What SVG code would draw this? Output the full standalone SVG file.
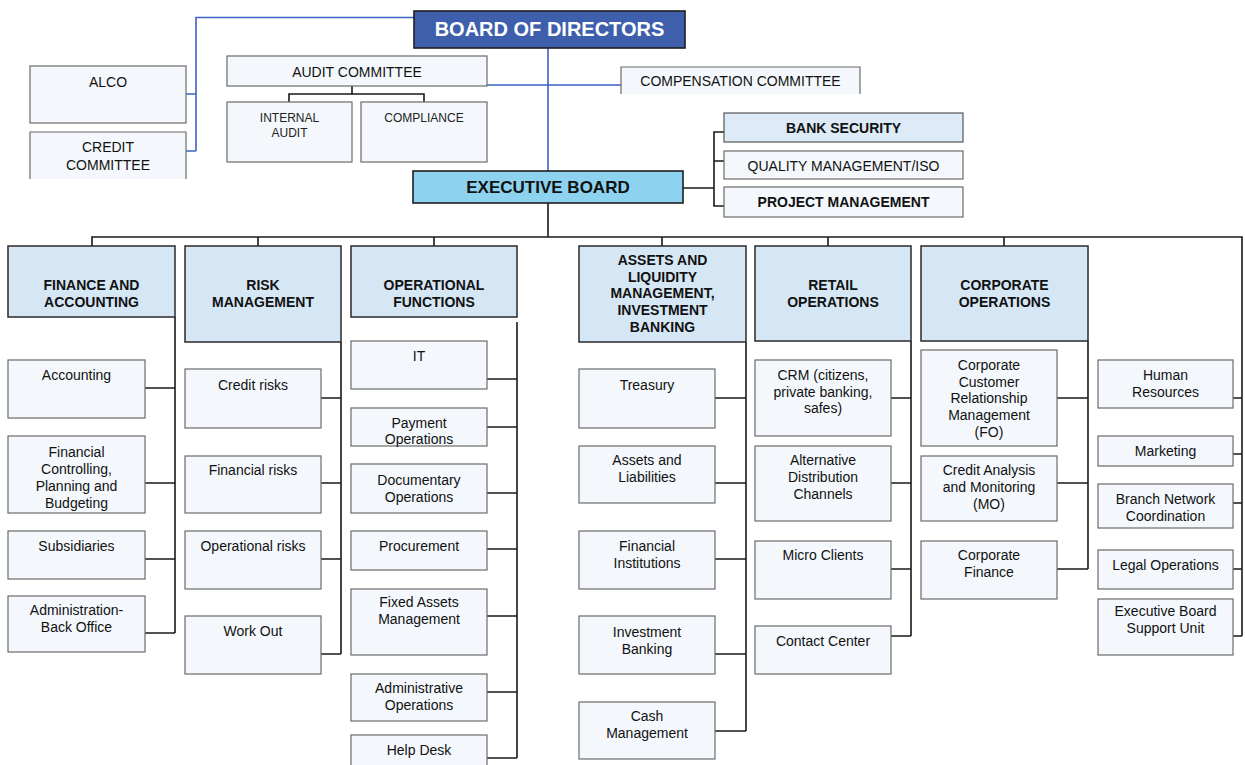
<svg xmlns="http://www.w3.org/2000/svg" width="1245" height="765" viewBox="0 0 1245 765">
<style>
.hdr{fill:#d5e7f5;stroke:#2a2a2a;stroke-width:1.5}
.box{fill:#f4f8fc;stroke:#6b6b6b;stroke-width:1.2}
.top{fill:#f4f8fc;stroke:#6b6b6b;stroke-width:1.2}
.fillonly{fill:#f4f8fc;stroke:none}
.edge{fill:none;stroke:#6b6b6b;stroke-width:1.2}
.bsec{fill:#dcebf7;stroke:#555;stroke-width:1.2}
.t{font-family:"Liberation Sans",Arial,sans-serif;font-size:14px;fill:#111;text-anchor:middle}
.ts{font-family:"Liberation Sans",Arial,sans-serif;font-size:12px;fill:#222;text-anchor:middle}
.tb{font-family:"Liberation Sans",Arial,sans-serif;font-size:14px;font-weight:bold;fill:#111;text-anchor:middle}
.ln{fill:none;stroke:#1a1a1a;stroke-width:1.6}
.bl{fill:none;stroke:#3a63c4;stroke-width:1.6}
</style>
<rect width="1245" height="765" fill="#ffffff"/>

<g id="connectors">
  <path class="bl" d="M414,17.5H196V151M186,94H196M186,151H196"/>
  <path class="bl" d="M548,48V171M487,85H621"/>
  <path class="ln" d="M352,86V94M289,102V94H424V102"/>
  <path class="ln" d="M683,188H714M724,132H714V206H724M714,161H724"/>
  <path class="ln" d="M548,203V237M92,246V237H1242V636M258,237V246M434,237V246M662,237V246M828,237V246M1004,237V246"/>
  <path class="ln" d="M175,317V633M145,388H175M145,483H175M145,559H175M145,633H175"/>
  <path class="ln" d="M341,342V654M321,398H341M321,483H341M321,559H341M321,654H341"/>
  <path class="ln" d="M517,322V758M487,379H517M487,427H517M487,493H517M487,549H517M487,616H517M487,692H517M487,758H517"/>
  <path class="ln" d="M746,342V731M715,398H746M715,483H746M715,559H746M715,654H746M715,731H746"/>
  <path class="ln" d="M911,341V636M891,398H911M891,483H911M891,569H911M891,636H911"/>
  <path class="ln" d="M1088,341V569M1057,398H1088M1057,483H1088M1057,569H1088"/>
  <path class="ln" d="M1233,398H1242M1233,454H1242M1233,503H1242M1233,569H1242M1233,636H1242"/>
</g>

<g id="board">
  <rect x="414" y="11" width="271" height="37" fill="#3e5fab" stroke="#1f1f1f" stroke-width="1.6"/>
  <text x="549.5" y="36" style="font-family:'Liberation Sans',Arial,sans-serif;font-size:20px;font-weight:bold;fill:#ffffff;text-anchor:middle">BOARD OF DIRECTORS</text>
</g>
<g id="alco">
  <rect class="top" x="30" y="66" width="156" height="57"/>
  <text class="t" x="108" y="87">ALCO</text>
</g>
<g id="credit-committee">
  <rect class="fillonly" x="30" y="132" width="156" height="47"/>
  <path class="edge" d="M30,179V132H186V179"/>
  <text class="t" x="108" y="152">CREDIT</text>
  <text class="t" x="108" y="170">COMMITTEE</text>
</g>
<g id="audit-committee">
  <rect class="top" x="227" y="56" width="260" height="30"/>
  <text class="t" x="357" y="77">AUDIT COMMITTEE</text>
</g>
<g id="internal-audit">
  <rect class="top" x="227" y="102" width="125" height="60"/>
  <text class="ts" x="289.5" y="122">INTERNAL</text>
  <text class="ts" x="289.5" y="137">AUDIT</text>
</g>
<g id="compliance">
  <rect class="top" x="361" y="102" width="126" height="60"/>
  <text class="ts" x="424" y="122">COMPLIANCE</text>
</g>
<g id="compensation">
  <rect class="fillonly" x="621" y="67" width="239" height="27"/>
  <path class="edge" d="M621,94V67H860V94"/>
  <text class="t" x="740.5" y="86">COMPENSATION COMMITTEE</text>
</g>
<g id="executive-board">
  <rect x="413" y="171" width="270" height="32" fill="#8dd3ef" stroke="#1f1f1f" stroke-width="1.6"/>
  <text x="548" y="193" style="font-family:'Liberation Sans',Arial,sans-serif;font-size:17px;font-weight:bold;fill:#111;text-anchor:middle">EXECUTIVE BOARD</text>
</g>
<g id="bank-security">
  <rect class="bsec" x="724" y="113" width="239" height="29"/>
  <text class="tb" x="843.5" y="133">BANK SECURITY</text>
</g>
<g id="quality">
  <rect class="top" x="724" y="151" width="239" height="28"/>
  <text class="t" x="843.5" y="170.5">QUALITY MANAGEMENT/ISO</text>
</g>
<g id="project">
  <rect class="top" x="724" y="187" width="239" height="30"/>
  <text class="tb" x="843.5" y="207">PROJECT MANAGEMENT</text>
</g>

<g id="finance">
  <rect class="hdr" x="8" y="246" width="167" height="71"/>
  <text class="tb" x="91.5" y="290">FINANCE AND</text>
  <text class="tb" x="91.5" y="306.5">ACCOUNTING</text>
</g>
<g id="risk">
  <rect class="hdr" x="185" y="246" width="156" height="96"/>
  <text class="tb" x="263" y="290">RISK</text>
  <text class="tb" x="263" y="306.5">MANAGEMENT</text>
</g>
<g id="operational">
  <rect class="hdr" x="351" y="246" width="166" height="71"/>
  <text class="tb" x="434" y="290">OPERATIONAL</text>
  <text class="tb" x="434" y="306.5">FUNCTIONS</text>
</g>
<g id="assets">
  <rect class="hdr" x="579" y="246" width="167" height="96"/>
  <text class="tb" x="662.5" y="265">ASSETS AND</text>
  <text class="tb" x="662.5" y="281.7">LIQUIDITY</text>
  <text class="tb" x="662.5" y="298.4">MANAGEMENT,</text>
  <text class="tb" x="662.5" y="315">INVESTMENT</text>
  <text class="tb" x="662.5" y="331.7">BANKING</text>
</g>
<g id="retail">
  <rect class="hdr" x="755" y="246" width="156" height="95"/>
  <text class="tb" x="833" y="290">RETAIL</text>
  <text class="tb" x="833" y="306.5">OPERATIONS</text>
</g>
<g id="corporate">
  <rect class="hdr" x="921" y="246" width="167" height="95"/>
  <text class="tb" x="1004.5" y="290">CORPORATE</text>
  <text class="tb" x="1004.5" y="306.5">OPERATIONS</text>
</g>

<g id="accounting"><rect class="box" x="8" y="360" width="137" height="58"/><text class="t" x="76.5" y="380">Accounting</text></g>
<g id="fin-controlling"><rect class="box" x="8" y="436" width="137" height="77"/>
  <text class="t" x="76.5" y="456.5">Financial</text><text class="t" x="76.5" y="473.5">Controlling,</text><text class="t" x="76.5" y="490.5">Planning and</text><text class="t" x="76.5" y="507.5">Budgeting</text></g>
<g id="subsidiaries"><rect class="box" x="8" y="531" width="137" height="48"/><text class="t" x="76.5" y="551">Subsidiaries</text></g>
<g id="admin-back"><rect class="box" x="8" y="596" width="137" height="56"/><text class="t" x="76.5" y="614.5">Administration-</text><text class="t" x="76.5" y="631.5">Back Office</text></g>

<g id="credit-risks"><rect class="box" x="185" y="369" width="136" height="59"/><text class="t" x="253" y="390">Credit risks</text></g>
<g id="financial-risks"><rect class="box" x="185" y="456" width="136" height="57"/><text class="t" x="253" y="474.5">Financial risks</text></g>
<g id="operational-risks"><rect class="box" x="185" y="531" width="136" height="58"/><text class="t" x="253" y="551">Operational risks</text></g>
<g id="work-out"><rect class="box" x="185" y="616" width="136" height="58"/><text class="t" x="253" y="636">Work Out</text></g>

<g id="it"><rect class="box" x="351" y="341" width="136" height="48"/><text class="t" x="419" y="361">IT</text></g>
<g id="payment"><rect class="box" x="351" y="408" width="136" height="38"/><text class="t" x="419" y="427.5">Payment</text><text class="t" x="419" y="444">Operations</text></g>
<g id="documentary"><rect class="box" x="351" y="464" width="136" height="49"/><text class="t" x="419" y="484.5">Documentary</text><text class="t" x="419" y="501.5">Operations</text></g>
<g id="procurement"><rect class="box" x="351" y="531" width="136" height="39"/><text class="t" x="419" y="551">Procurement</text></g>
<g id="fixed-assets"><rect class="box" x="351" y="589" width="136" height="66"/><text class="t" x="419" y="606.5">Fixed Assets</text><text class="t" x="419" y="624">Management</text></g>
<g id="admin-ops"><rect class="box" x="351" y="674" width="136" height="47"/><text class="t" x="419" y="693">Administrative</text><text class="t" x="419" y="710">Operations</text></g>
<g id="help-desk"><rect class="box" x="351" y="735" width="136" height="32"/><text class="t" x="419" y="754.5">Help Desk</text></g>

<g id="treasury"><rect class="box" x="579" y="369" width="136" height="59"/><text class="t" x="647" y="390">Treasury</text></g>
<g id="assets-liab"><rect class="box" x="579" y="446" width="136" height="57"/><text class="t" x="647" y="465">Assets and</text><text class="t" x="647" y="482">Liabilities</text></g>
<g id="fin-inst"><rect class="box" x="579" y="531" width="136" height="58"/><text class="t" x="647" y="551">Financial</text><text class="t" x="647" y="568">Institutions</text></g>
<g id="inv-banking"><rect class="box" x="579" y="616" width="136" height="58"/><text class="t" x="647" y="636.5">Investment</text><text class="t" x="647" y="653.5">Banking</text></g>
<g id="cash-mgmt"><rect class="box" x="579" y="702" width="136" height="57"/><text class="t" x="647" y="721">Cash</text><text class="t" x="647" y="738">Management</text></g>

<g id="crm"><rect class="box" x="755" y="360" width="136" height="76"/><text class="t" x="823" y="380">CRM (citizens,</text><text class="t" x="823" y="396.7">private banking,</text><text class="t" x="823" y="413">safes)</text></g>
<g id="alt-dist"><rect class="box" x="755" y="446" width="136" height="75"/><text class="t" x="823" y="465">Alternative</text><text class="t" x="823" y="482">Distribution</text><text class="t" x="823" y="499">Channels</text></g>
<g id="micro"><rect class="box" x="755" y="541" width="136" height="58"/><text class="t" x="823" y="560">Micro Clients</text></g>
<g id="contact"><rect class="box" x="755" y="626" width="136" height="48"/><text class="t" x="823" y="645.5">Contact Center</text></g>

<g id="ccrm"><rect class="box" x="921" y="350" width="136" height="96"/><text class="t" x="989" y="370">Corporate</text><text class="t" x="989" y="386.7">Customer</text><text class="t" x="989" y="403.4">Relationship</text><text class="t" x="989" y="420">Management</text><text class="t" x="989" y="436.7">(FO)</text></g>
<g id="credit-analysis"><rect class="box" x="921" y="456" width="136" height="65"/><text class="t" x="989" y="475">Credit Analysis</text><text class="t" x="989" y="492">and Monitoring</text><text class="t" x="989" y="509">(MO)</text></g>
<g id="corp-finance"><rect class="box" x="921" y="541" width="136" height="58"/><text class="t" x="989" y="560">Corporate</text><text class="t" x="989" y="577">Finance</text></g>

<g id="hr"><rect class="box" x="1098" y="360" width="135" height="48"/><text class="t" x="1165.5" y="380">Human</text><text class="t" x="1165.5" y="396.7">Resources</text></g>
<g id="marketing"><rect class="box" x="1098" y="436" width="135" height="30"/><text class="t" x="1165.5" y="456">Marketing</text></g>
<g id="branch"><rect class="box" x="1098" y="484" width="135" height="44"/><text class="t" x="1165.5" y="504.3">Branch Network</text><text class="t" x="1165.5" y="520.5">Coordination</text></g>
<g id="legal"><rect class="box" x="1098" y="550" width="135" height="39"/><text class="t" x="1165.5" y="569.5">Legal Operations</text></g>
<g id="eb-support"><rect class="box" x="1098" y="599" width="135" height="56"/><text class="t" x="1165.5" y="616">Executive Board</text><text class="t" x="1165.5" y="633.3">Support Unit</text></g>
</svg>
